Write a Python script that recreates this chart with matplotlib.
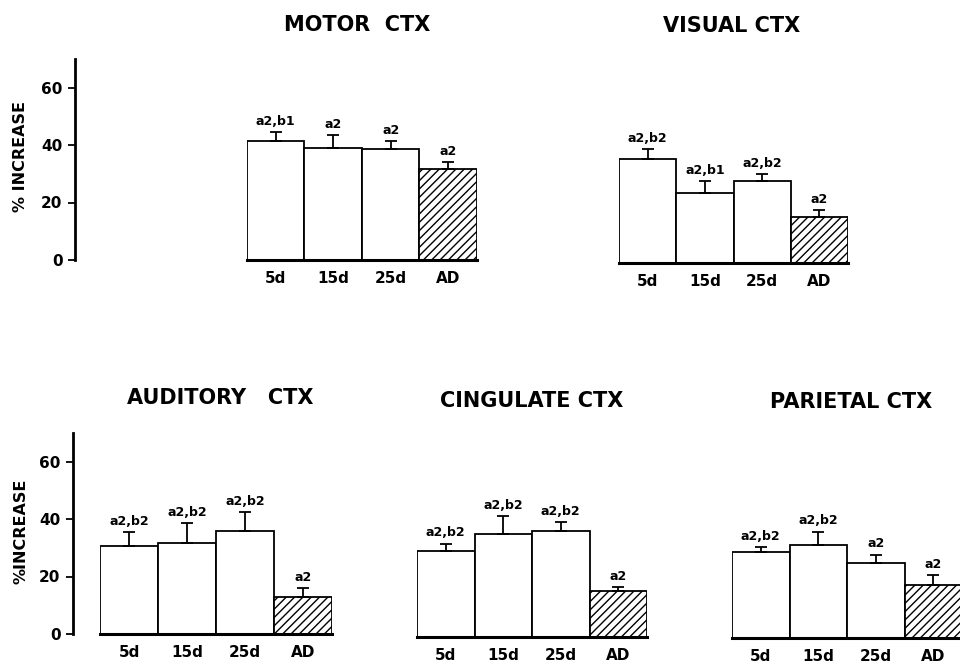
import matplotlib
matplotlib.use("Agg")
import matplotlib.pyplot as plt

plt.rcParams['font.family'] = ['DejaVu Sans']
plt.rcParams['font.weight'] = 'bold'
plt.rcParams['hatch.linewidth'] = 1.0

groups = ["5d", "15d", "25d", "AD"]

motor = [41.5, 39, 38.5, 31.5]
motor_err = [3, 4.5, 3, 2.5]
motor_lab = ["a2,b1", "a2", "a2", "a2"]

visual = [36, 24.5, 28.5, 16]
visual_err = [3.5, 4, 2.5, 2.5]
visual_lab = ["a2,b2", "a2,b1", "a2,b2", "a2"]

auditory = [30.5, 31.5, 36, 13]
auditory_err = [5, 7, 6.5, 3]
auditory_lab = ["a2,b2", "a2,b2", "a2,b2", "a2"]

cingulate = [30, 36, 37, 16]
cingulate_err = [2.5, 6, 3, 1.5]
cingulate_lab = ["a2,b2", "a2,b2", "a2,b2", "a2"]

parietal = [30, 32.5, 26, 18.5]
parietal_err = [1.5, 4.5, 3, 3.5]
parietal_lab = ["a2,b2", "a2,b2", "a2", "a2"]

yticks = [0, 20, 40, 60]

W, H = 960, 665
fig = plt.figure(figsize=(W / 100, H / 100), dpi=100)

# (title, values, errors, labels, left px, baseline px, width px, title x, title y, yaxis offset px, ylabel)
panels = [
    ("MOTOR  CTX", motor, motor_err, motor_lab, 247, 260, 230, 357, 25, 172, "% INCREASE"),
    ("VISUAL CTX", visual, visual_err, visual_lab, 619, 263, 229, 732, 26, None, None),
    ("AUDITORY   CTX", auditory, auditory_err, auditory_lab, 100, 634, 232, 220, 398, 27, "%INCREASE"),
    ("CINGULATE CTX", cingulate, cingulate_err, cingulate_lab, 417, 637, 230, 532, 401, None, None),
    ("PARIETAL CTX", parietal, parietal_err, parietal_lab, 732, 638, 230, 851, 402, None, None),
]

ymax = 70
scale = 2.875

for title, vals, errs, labs, left, base, width, tx, ty, yoff, ylab in panels:
    height = ymax * scale
    ax = fig.add_axes([left / W, (H - base) / H, width / W, height / H])
    x = list(range(len(groups)))
    hatches = ["", "", "", "////"]
    bars = ax.bar(x, vals, width=1.0, color="white", edgecolor="black", linewidth=1.3)
    for b, h in zip(bars, hatches):
        b.set_hatch(h)
    ax.errorbar(x, vals, yerr=[[0] * len(errs), errs], fmt="none", ecolor="black",
                elinewidth=1.3, capsize=4.5, capthick=1.3)
    for xi, v, e, l in zip(x, vals, errs, labs):
        ax.annotate(l, (xi, v + e), xytext=(0, 3), textcoords="offset points",
                    ha="center", va="bottom", fontsize=9, fontweight="bold")
    ax.set_xlim(-0.5, 3.5)
    ax.set_ylim(0, ymax)
    ax.set_xticks(x)
    ax.set_xticklabels(groups, fontsize=11, fontweight="bold")
    ax.tick_params(axis="x", length=0, pad=8)
    ax.spines["top"].set_visible(False)
    ax.spines["right"].set_visible(False)
    ax.spines["bottom"].set_linewidth(2.2)
    if yoff is not None:
        ax.spines["left"].set_position(("outward", yoff * 0.72))
        ax.spines["left"].set_linewidth(2.0)
        ax.set_yticks(yticks)
        ax.set_yticklabels([str(t) for t in yticks], fontsize=11, fontweight="bold")
        ax.tick_params(axis="y", direction="out", length=5, width=1.3, pad=4)
        fig.text(21 / W, 1 - (base - 103) / H, ylab, rotation=90, ha="center", va="center",
                 fontsize=11.5, fontweight="bold")
    else:
        ax.spines["left"].set_visible(False)
        ax.set_yticks([])
    ax.patch.set_alpha(0)
    fig.text(tx / W, 1 - ty / H, title, ha="center", va="center", fontsize=15, fontweight="bold")

fig.savefig("out.png", dpi=100)
